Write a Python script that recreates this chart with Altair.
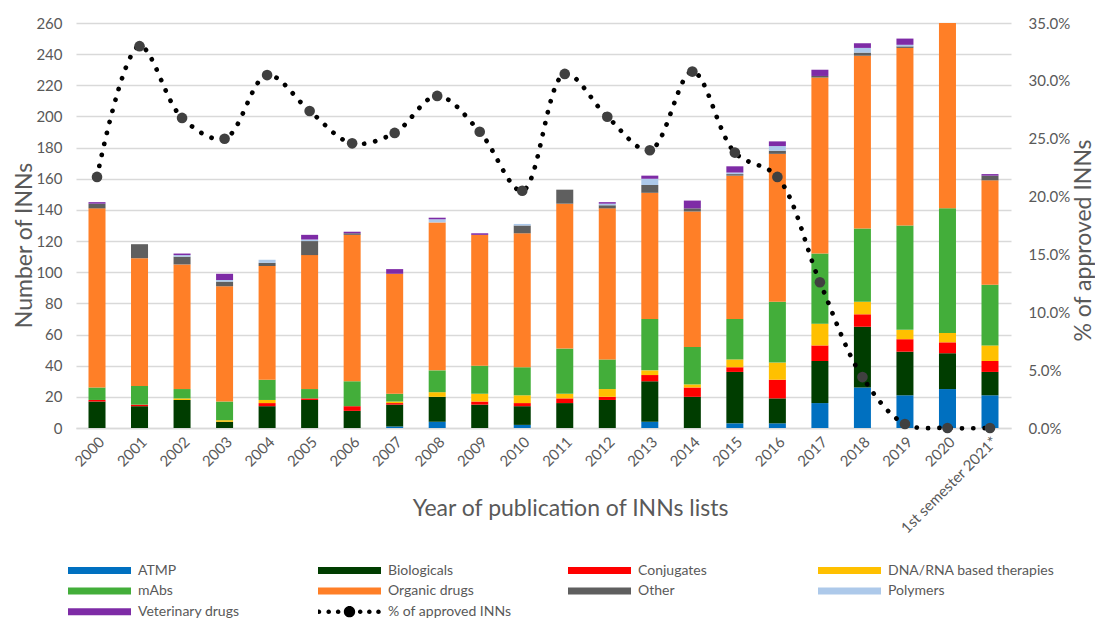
import altair as alt
import pandas as pd

years = ["2000", "2001", "2002", "2003", "2004", "2005", "2006", "2007", "2008", "2009",
         "2010", "2011", "2012", "2013", "2014", "2015", "2016", "2017", "2018", "2019",
         "2020", "1st semester 2021*"]

categories = ["ATMP", "Biologicals", "Conjugates", "DNA/RNA based therapies", "mAbs",
              "Organic drugs", "Other", "Polymers", "Veterinary drugs"]
colors = ["#0070C0", "#003D00", "#FF0000", "#FFC000", "#43AE3A",
          "#FF7F27", "#5F5F5F", "#ADC9EA", "#7E2BA6"]

atmp      = [0, 0, 0, 0, 0, 0, 0, 1, 4, 0, 2, 0, 0, 4, 0, 3, 3, 16, 26, 21, 25, 21]
biologics = [17, 14, 18, 4, 14, 18, 11, 14, 16, 15, 12, 16, 18, 26, 20, 33, 16, 27, 39, 28, 23, 15]
conjug    = [1, 1, 0, 0, 2, 1, 3, 1, 0, 2, 2, 3, 2, 4, 6, 3, 12, 10, 8, 8, 7, 7]
dna_rna   = [0, 0, 1, 1, 2, 0, 0, 1, 3, 5, 5, 3, 5, 3, 2, 5, 11, 14, 8, 6, 6, 10]
mabs      = [8, 12, 6, 12, 13, 6, 16, 5, 14, 18, 18, 29, 19, 33, 24, 26, 39, 45, 47, 67, 80, 39]
organic   = [115, 82, 80, 74, 73, 86, 94, 77, 95, 84, 86, 93, 97, 81, 87, 92, 95, 113, 111, 114, 119, 67]
other     = [3, 9, 5, 3, 2, 9, 1, 0, 0, 0, 5, 9, 2, 5, 2, 1, 2, 1, 2, 1, 0, 3]
polymers  = [0, 0, 1, 1, 2, 1, 0, 0, 2, 0, 1, 0, 1, 4, 0, 1, 3, 0, 3, 1, 0, 0]
veterin   = [1, 0, 1, 4, 0, 3, 1, 3, 1, 1, 0, 0, 1, 2, 5, 4, 3, 4, 3, 4, 0, 1]

pct_approved = [21.7, 33.0, 26.8, 25.0, 30.5, 27.4, 24.6, 25.5, 28.7, 25.6, 20.5,
                30.6, 26.9, 24.0, 30.8, 23.8, 21.7, 12.6, 4.4, 0.35, 0.0, 0.0]

series = [atmp, biologics, conjug, dna_rna, mabs, organic, other, polymers, veterin]

rows = []
for ci, (cat, vals) in enumerate(zip(categories, series)):
    for y, v in zip(years, vals):
        rows.append({"year": y, "category": cat, "value": v, "idx": ci})
df_bars = pd.DataFrame(rows)

df_line = pd.DataFrame({"year": years, "pct": [p / 100 for p in pct_approved],
                        "s": ["% of approved INNs"] * len(years)})

GREY = "#595959"
FONT = "Lato"

xscale = alt.Scale(domain=years, paddingInner=0.6, paddingOuter=0.294)
xaxis = alt.Axis(title="Year of publication of INNs lists", labelAngle=-45,
                 labelFontSize=15, labelColor=GREY, labelPadding=6,
                 domain=True, domainColor="#D9D9D9", domainWidth=1.5, ticks=False,
                 titleFontSize=23, titleFontWeight="normal", titleColor=GREY,
                 titleX=494, titleY=87, titleAlign="center", titleBaseline="alphabetic")

bar_path = "M-1,-0.111L1,-0.111L1,0.111L-1,0.111Z"

bars = alt.Chart(df_bars).mark_bar().encode(
    x=alt.X("year:N", sort=years, scale=xscale, axis=xaxis),
    y=alt.Y("value:Q", stack="zero",
            scale=alt.Scale(domain=[0, 260], nice=False, zero=True),
            axis=alt.Axis(values=list(range(0, 261, 20)), title="Number of INNs",
                          labelFontSize=15, labelColor=GREY, labelPadding=14,
                          domain=False, ticks=False, grid=True, gridColor="#D9D9D9",
                          gridWidth=1.5, titleFontSize=23, titleFontWeight="normal",
                          titleColor=GREY, titleX=-52, titleY=222, titleAlign="center",
                          titleBaseline="middle")),
    fill=alt.Fill("category:N", scale=alt.Scale(domain=categories, range=colors),
                  legend=alt.Legend(orient="none", direction="horizontal", legendX=-8,
                                    legendY=540.5, title=None,
                                    columns=4, gridAlign="all", columnPadding=13,
                                    rowPadding=6.6, clipHeight=14, symbolType=bar_path,
                                    symbolSize=3969, symbolStrokeWidth=0, labelOffset=7,
                                    labelFontSize=14, labelColor=GREY, labelLimit=300,
                                    padding=0)),
    order=alt.Order("idx:Q", sort="ascending"),
)

def circ(cx, r):
    return f"M{cx - r},0a{r},{r} 0 1,0 {2 * r},0a{r},{r} 0 1,0 {-2 * r},0"

line_path = "".join(circ(c, 0.073) for c in [-0.97, -0.66, -0.36, 0.34, 0.63, 0.92]) + circ(0, 0.18)

yright = alt.Y("pct:Q", scale=alt.Scale(domain=[0, 0.35], nice=False),
               axis=alt.Axis(orient="right", values=[0, 0.05, 0.1, 0.15, 0.2, 0.25, 0.3, 0.35],
                             format=".1%", title="% of approved INNs", labelFontSize=15,
                             labelColor=GREY, labelPadding=17, domain=False, ticks=False,
                             grid=False, titleFontSize=23, titleFontWeight="normal",
                             titleColor=GREY, titleAngle=270, titleX=72, titleY=217,
                             titleAlign="center", titleBaseline="middle"))

line = alt.Chart(df_line).mark_line(interpolate="catmull-rom", strokeDash=[0.1, 11.2],
                                    strokeCap="round", strokeWidth=4.7).encode(
    x=alt.X("year:N", sort=years, scale=xscale, axis=xaxis),
    y=yright,
    stroke=alt.Stroke("s:N", scale=alt.Scale(domain=["% of approved INNs"], range=["black"]),
                      legend=alt.Legend(orient="none", legendX=242, legendY=581.7, title=None,
                                        clipHeight=14, symbolType=line_path, symbolSize=3969,
                                        symbolFillColor="black", symbolStrokeWidth=0,
                                        labelOffset=7, labelFontSize=14, labelColor=GREY,
                                        padding=0)),
)

points = alt.Chart(df_line).mark_circle(size=113, color="#404040", opacity=1).encode(
    x=alt.X("year:N", sort=years, scale=xscale, axis=xaxis),
    y=yright,
)

chart = alt.layer(bars, alt.layer(line, points)).resolve_scale(y="independent").properties(
    width=935, height=405,
    autosize=alt.AutoSizeParams(type="none"),
    padding={"left": 68, "top": 15, "right": 84, "bottom": 196},
).configure(font=FONT).configure_view(stroke=None)

chart.save("out.html", embed_options={"renderer": "svg", "actions": False})
